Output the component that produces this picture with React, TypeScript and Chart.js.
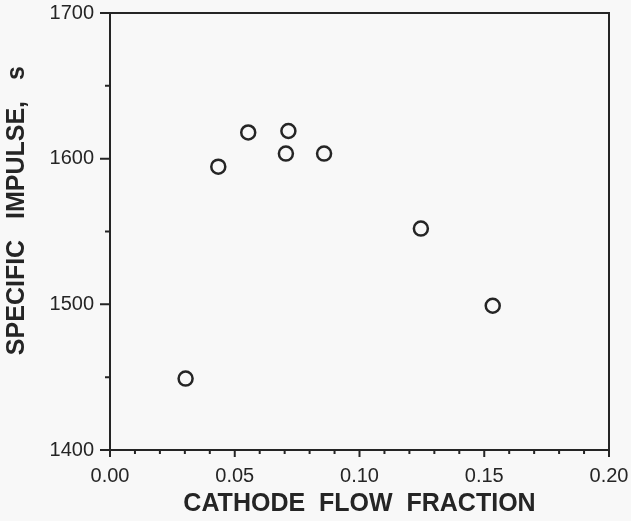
import React, { useEffect, useRef } from "react";
import { Chart, registerables } from "chart.js";

Chart.register(...registerables);

// Data
const cathodeFlowFraction = [0.0303, 0.0434, 0.0554, 0.0715, 0.0705, 0.0858, 0.1246, 0.1534];
const specificImpulse = [1449, 1594.5, 1618, 1619, 1603.5, 1603.5, 1552, 1499];

// Axis ticks
const xMajorTicks = [0.0, 0.05, 0.1, 0.15, 0.2];
const xMinorTicks = [0.01, 0.02, 0.03, 0.04, 0.06, 0.07, 0.08, 0.09, 0.11, 0.12, 0.13, 0.14, 0.16, 0.17, 0.18, 0.19];
const yMajorTicks = [1400, 1500, 1600, 1700];
const yMinorTicks = [1450, 1550, 1650];

const xTitle = "CATHODE  FLOW  FRACTION";
const yTitle = "SPECIFIC   IMPULSE,   s";

const INK = "#252525";
const PAPER = "#f8f8f8";

const framePlugin = {
  id: "frameAndTicks",
  beforeDraw(chart: any) {
    const ctx = chart.ctx;
    ctx.save();
    ctx.fillStyle = PAPER;
    ctx.fillRect(0, 0, chart.width, chart.height);
    ctx.restore();
  },
  beforeDatasetsDraw(chart: any) {
    const ctx = chart.ctx;
    const { left, right, top, bottom } = chart.chartArea;
    const xs = chart.scales.x;
    const ys = chart.scales.y;
    ctx.save();
    ctx.strokeStyle = INK;
    ctx.lineWidth = 2;
    ctx.strokeRect(left, top, right - left, bottom - top);
    ctx.beginPath();
    for (const v of xMajorTicks) {
      const px = xs.getPixelForValue(v);
      ctx.moveTo(px, bottom);
      ctx.lineTo(px, bottom + 7);
    }
    for (const v of xMinorTicks) {
      const px = xs.getPixelForValue(v);
      ctx.moveTo(px, bottom);
      ctx.lineTo(px, bottom + 4);
    }
    for (const v of yMajorTicks) {
      const py = ys.getPixelForValue(v);
      ctx.moveTo(left, py);
      ctx.lineTo(left - 10, py);
    }
    for (const v of yMinorTicks) {
      const py = ys.getPixelForValue(v);
      ctx.moveTo(left, py);
      ctx.lineTo(left - 5, py);
    }
    ctx.stroke();
    ctx.restore();
  },
};

const zeroPadding = (s: any) => {
  s.paddingLeft = 0;
  s.paddingRight = 0;
  s.paddingTop = 0;
  s.paddingBottom = 0;
};

export default function App() {
  const ref = useRef<HTMLCanvasElement>(null);

  useEffect(() => {
    const canvas = ref.current;
    if (!canvas) return;
    const tickFont = { family: "'Liberation Sans', Arial, sans-serif", size: 20 };
    const titleFont = { family: "'Liberation Sans', Arial, sans-serif", size: 25, weight: "bold" as const };
    const chart = new Chart(canvas, {
      type: "scatter",
      data: {
        datasets: [
          {
            data: cathodeFlowFraction.map((x, i) => ({ x, y: specificImpulse[i] })),
            pointStyle: "circle",
            pointRadius: 7,
            pointBorderWidth: 2.5,
            pointBorderColor: INK,
            pointBackgroundColor: "rgba(0,0,0,0)",
            showLine: false,
            clip: false as any,
          },
        ],
      },
      options: {
        responsive: false,
        animation: false,
        devicePixelRatio: 1,
        events: [],
        layout: { padding: { left: 0, right: 22, top: 13, bottom: 0 } },
        plugins: {
          legend: { display: false },
          tooltip: { enabled: false },
        },
        scales: {
          x: {
            type: "linear",
            min: 0,
            max: 0.2,
            afterBuildTicks: (s: any) => {
              s.ticks = xMajorTicks.map((v) => ({ value: v }));
            },
            afterFit: (s: any) => {
              s.height = 71;
              zeroPadding(s);
            },
            grid: { display: false, drawTicks: false },
            border: { display: false },
            ticks: {
              autoSkip: false,
              maxRotation: 0,
              padding: 14,
              color: INK,
              font: tickFont,
              callback: (v: any) => Number(v).toFixed(2),
            },
            title: {
              display: true,
              text: xTitle,
              color: INK,
              font: titleFont,
              padding: { top: 0, bottom: 2 },
            },
          },
          y: {
            type: "linear",
            min: 1400,
            max: 1700,
            afterBuildTicks: (s: any) => {
              s.ticks = yMajorTicks.map((v) => ({ value: v }));
            },
            afterFit: (s: any) => {
              s.width = 110;
              zeroPadding(s);
            },
            grid: { display: false, drawTicks: false },
            border: { display: false },
            ticks: {
              autoSkip: false,
              padding: 16,
              color: INK,
              font: tickFont,
              callback: (v: any) => String(v),
            },
            title: {
              display: true,
              text: "\u00a0\u00a0\u00a0\u00a0\u00a0\u00a0" + yTitle,
              color: INK,
              font: titleFont,
              padding: { top: 2, bottom: 0 },
            },
          },
        },
      },
      plugins: [framePlugin],
    });
    return () => chart.destroy();
  }, []);

  return (
    <div style={{ position: "fixed", left: 0, top: 0, width: 631, height: 521, background: PAPER }}>
      <canvas ref={ref} width={631} height={521} style={{ display: "block", width: 631, height: 521 }} />
    </div>
  );
}
